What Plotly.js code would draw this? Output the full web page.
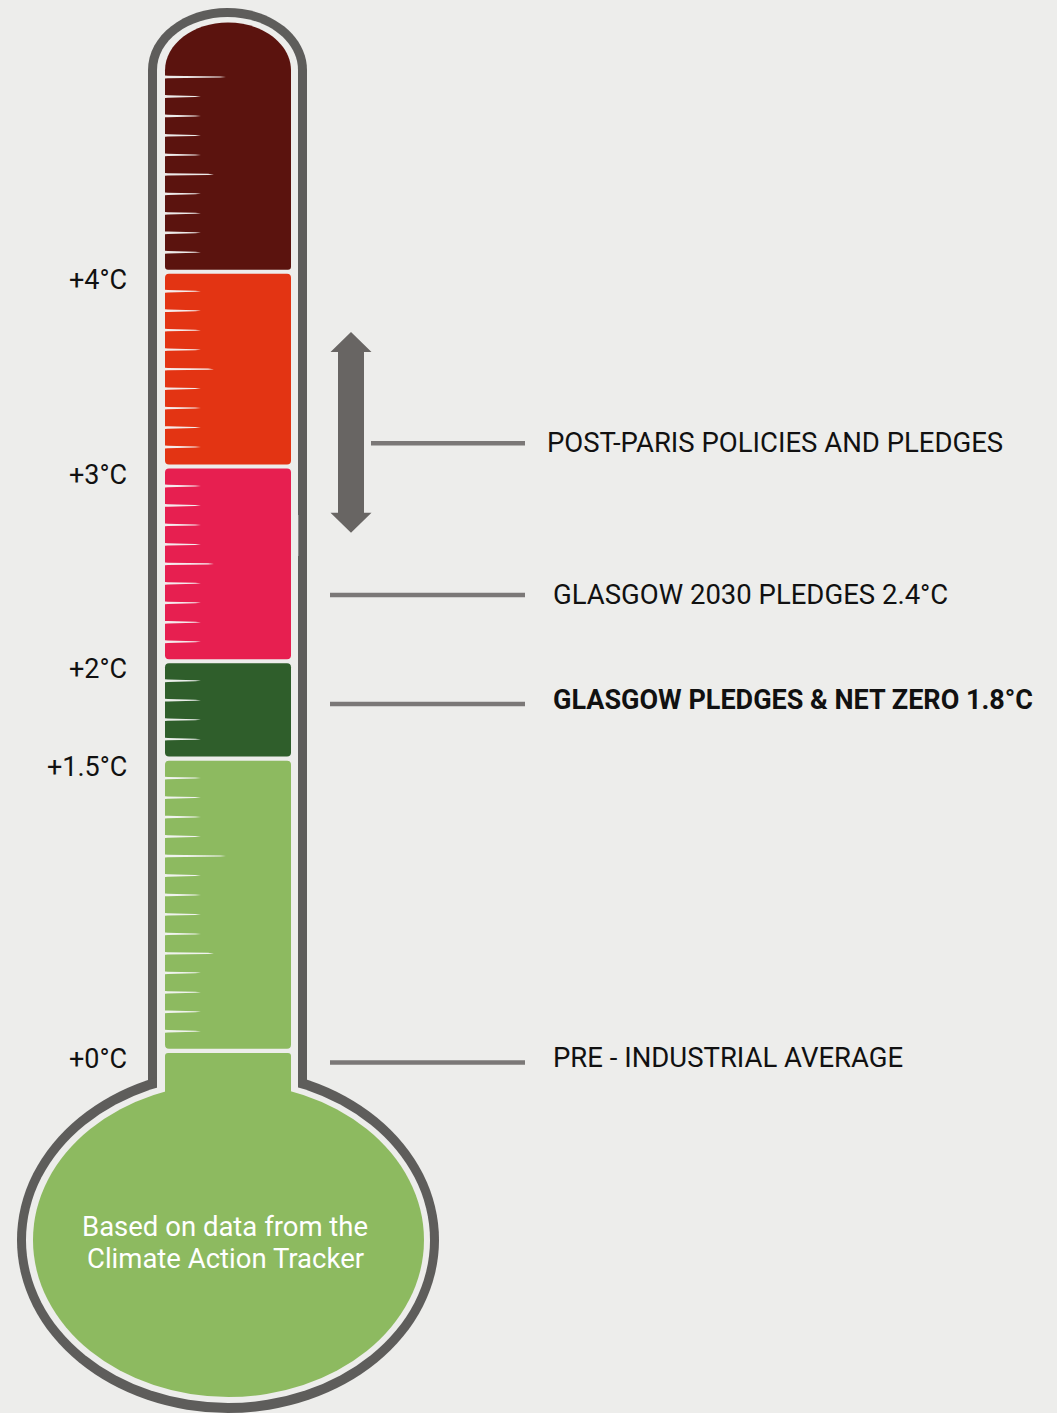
<!DOCTYPE html>
<html><head><meta charset="utf-8">
<script src="https://cdn.plot.ly/plotly-3.0.1.min.js"></script>
<style>html,body{margin:0;padding:0;background:#ededeb;}#chart{width:1057px;height:1413px;}</style>
</head><body><div id="chart"></div>
<script>
// ---------- data ----------
const segmentBottoms = [0, 1.5, 2, 3, 4];
const segmentTops = [1.5, 2, 3, 4, 5.28];
const segmentColors = ['#8dba60', '#2f5e2b', '#e71f50', '#e33413', '#5b130e'];
const scaleValues = [0, 1.5, 2, 3, 4];
const scaleLabels = ['+0°C', '+1.5°C', '+2°C', '+3°C', '+4°C'];
const markerLabels = ['POST-PARIS POLICIES AND PLEDGES', 'GLASGOW 2030 PLEDGES 2.4°C', 'GLASGOW PLEDGES & NET ZERO 1.8°C', 'PRE - INDUSTRIAL AVERAGE'];
const markerTemps = [3.12, 2.34, 1.78, -0.06];
const markerBold = [false, false, true, false];
const postParisRange = [2.66, 3.69];
const bulbLines = ['Based on data from the', 'Climate Action Tracker'];

// ---------- geometry helpers ----------
const W = 1057, H = 1413, S = 194.75, Y0 = 1050.75;
const d = px => (Y0 - px) / S;      // pixel row -> degrees
const p = deg => Y0 - deg * S;      // degrees -> pixel row
function toPath(list) {
  let s = '';
  for (const c of list) {
    if (typeof c === 'string') s += c;
    else s += c[0].toFixed(3) + ',' + d(c[1]).toFixed(5) + ' ';
  }
  return s;
}
function rrect(x0, x1, yt, yb, r) {
  return toPath(['M', [x0 + r, yt], 'L', [x1 - r, yt], 'Q', [x1, yt], [x1, yt + r], 'L', [x1, yb - r],
    'Q', [x1, yb], [x1 - r, yb], 'L', [x0 + r, yb], 'Q', [x0, yb], [x0, yb - r], 'L', [x0, yt + r],
    'Q', [x0, yt], [x0 + r, yt], 'Z']);
}
function cap(xl, xr, ytop, ry, ybot, rb) {
  const cx = (xl + xr) / 2, rx = (xr - xl) / 2, cy = ytop + ry, k = 0.5523;
  const l = ['M', [xl, ybot - rb], 'L', [xl, cy], 'C', [xl, cy - k * ry], [cx - k * rx, ytop], [cx, ytop],
    'C', [cx + k * rx, ytop], [xr, cy - k * ry], [xr, cy], 'L', [xr, ybot - rb]];
  if (rb > 0) l.push('Q', [xr, ybot], [xr - rb, ybot], 'L', [xl + rb, ybot], 'Q', [xl, ybot], [xl, ybot - rb]);
  else l.push('L', [xl, ybot]);
  l.push('Z');
  return toPath(l);
}
const BG = '#ededeb', GRAY = '#5e5d5b';
const shapes = [];
const addPath = (path, fill) => shapes.push({type: 'path', xref: 'x', yref: 'y', path, fillcolor: fill, line: {width: 0}, layer: 'below'});
const addEllipse = (cx, cy, rx, ry, fill) => shapes.push({type: 'circle', xref: 'x', yref: 'y', x0: cx - rx, x1: cx + rx, y0: d(cy + ry), y1: d(cy - ry), fillcolor: fill, line: {width: 0}, layer: 'below'});

// thermometer body
addPath(cap(148, 307, 8, 62, 1100, 0), GRAY);
addEllipse(228, 1240, 211, 173, GRAY);
addPath(cap(157, 298, 17, 53, 1098, 0), BG);
addEllipse(228, 1240, 202, 163, BG);
addEllipse(228.5, 1240, 195.5, 157, segmentColors[0]);
addPath(rrect(165, 291, 1053, 1096, 3), segmentColors[0]);
addPath(rrect(298, 299, 515, 556, 0), '#8a8987');

// coloured bands
const GAP = 2, XL = 165, XR = 291;
segmentBottoms.forEach((b, i) => {
  const t = segmentTops[i];
  const yb = p(b) - GAP;
  if (i === segmentBottoms.length - 1) {
    addPath(cap(XL, XR, p(t), 48, yb, 3), segmentColors[i]);
  } else {
    addPath(rrect(XL, XR, p(t) + GAP, yb, 4), segmentColors[i]);
  }
});

// scale ticks every 0.1 °C
const boundaries = segmentBottoms.slice(1);
for (let i = 1; i <= 50; i++) {
  const t = i / 10;
  if (boundaries.some(b => Math.abs(b - t) < 1e-9)) continue;
  const len = (i % 10 === 0) ? 61 : (i % 5 === 0 ? 49 : 36);
  const y = p(t), h = 1.4;
  addPath(toPath(['M', [XL, y - h], 'L', [XL + 3, y - h * 0.85], 'L', [XL + len - 6, y - 0.5], 'L', [XL + len, y], 'L', [XL + len - 6, y + 0.5], 'L', [XL + 3, y + h * 0.85], 'L', [XL, y + h], 'Z']), 'rgba(245,245,245,0.95)');
}

// double arrow for post-Paris range
(function () {
  const cx = 351, sw = 13, hw = 20.5, hl = 20;
  const hi = p(postParisRange[1]), lo = p(postParisRange[0]);
  addPath(toPath(['M', [cx, hi], 'L', [cx + hw, hi + hl], 'L', [cx + sw, hi + hl], 'L', [cx + sw, lo - hl],
    'L', [cx + hw, lo - hl], 'L', [cx, lo], 'L', [cx - hw, lo - hl], 'L', [cx - sw, lo - hl],
    'L', [cx - sw, hi + hl], 'L', [cx - hw, hi + hl], 'Z']), '#686563');
})();

// ---------- traces: marker lines ----------
const traces = markerTemps.map((t, i) => ({
  type: 'scatter', mode: 'lines', x: [i === 0 ? 371 : 330, 525], y: [t, t],
  line: {color: '#7b7877', width: 4.5}, hoverinfo: 'skip', showlegend: false
}));

// ---------- annotations ----------
const FONT = 'Roboto, "Noto Sans", sans-serif';
const annotations = [];
scaleValues.forEach((v, i) => annotations.push({
  x: 129, y: v, xref: 'x', yref: 'y', text: scaleLabels[i], showarrow: false,
  xanchor: 'right', yanchor: 'middle', yshift: -8, font: {family: FONT, size: 27, color: '#111111'}
}));
markerLabels.forEach((lab, i) => annotations.push({
  x: i === 0 ? 545 : 551, y: markerTemps[i], xref: 'x', yref: 'y',
  text: markerBold[i] ? '<b>' + lab + '</b>' : lab, showarrow: false,
  xanchor: 'left', yanchor: 'middle', yshift: i === 3 ? 5 : (i === 2 ? 4 : 1),
  font: {family: FONT, size: markerBold[i] ? 27 : 27.5, color: '#111111'}
}));
bulbLines.forEach((line, i) => annotations.push({
  x: 225, y: d(1226 + i * 32), xref: 'x', yref: 'y', text: line, showarrow: false,
  xanchor: 'center', yanchor: 'middle', align: 'center',
  font: {family: FONT, size: 27.5, color: '#ffffff'}
}));

const layout = {
  width: W, height: H, margin: {l: 0, r: 0, t: 0, b: 0},
  paper_bgcolor: BG, plot_bgcolor: BG,
  xaxis: {range: [0, W], visible: false, fixedrange: true},
  yaxis: {range: [d(H), d(0)], visible: false, fixedrange: true},
  shapes, annotations, showlegend: false
};
Plotly.newPlot('chart', traces, layout, {displayModeBar: false, staticPlot: true});
</script>
</body></html>
